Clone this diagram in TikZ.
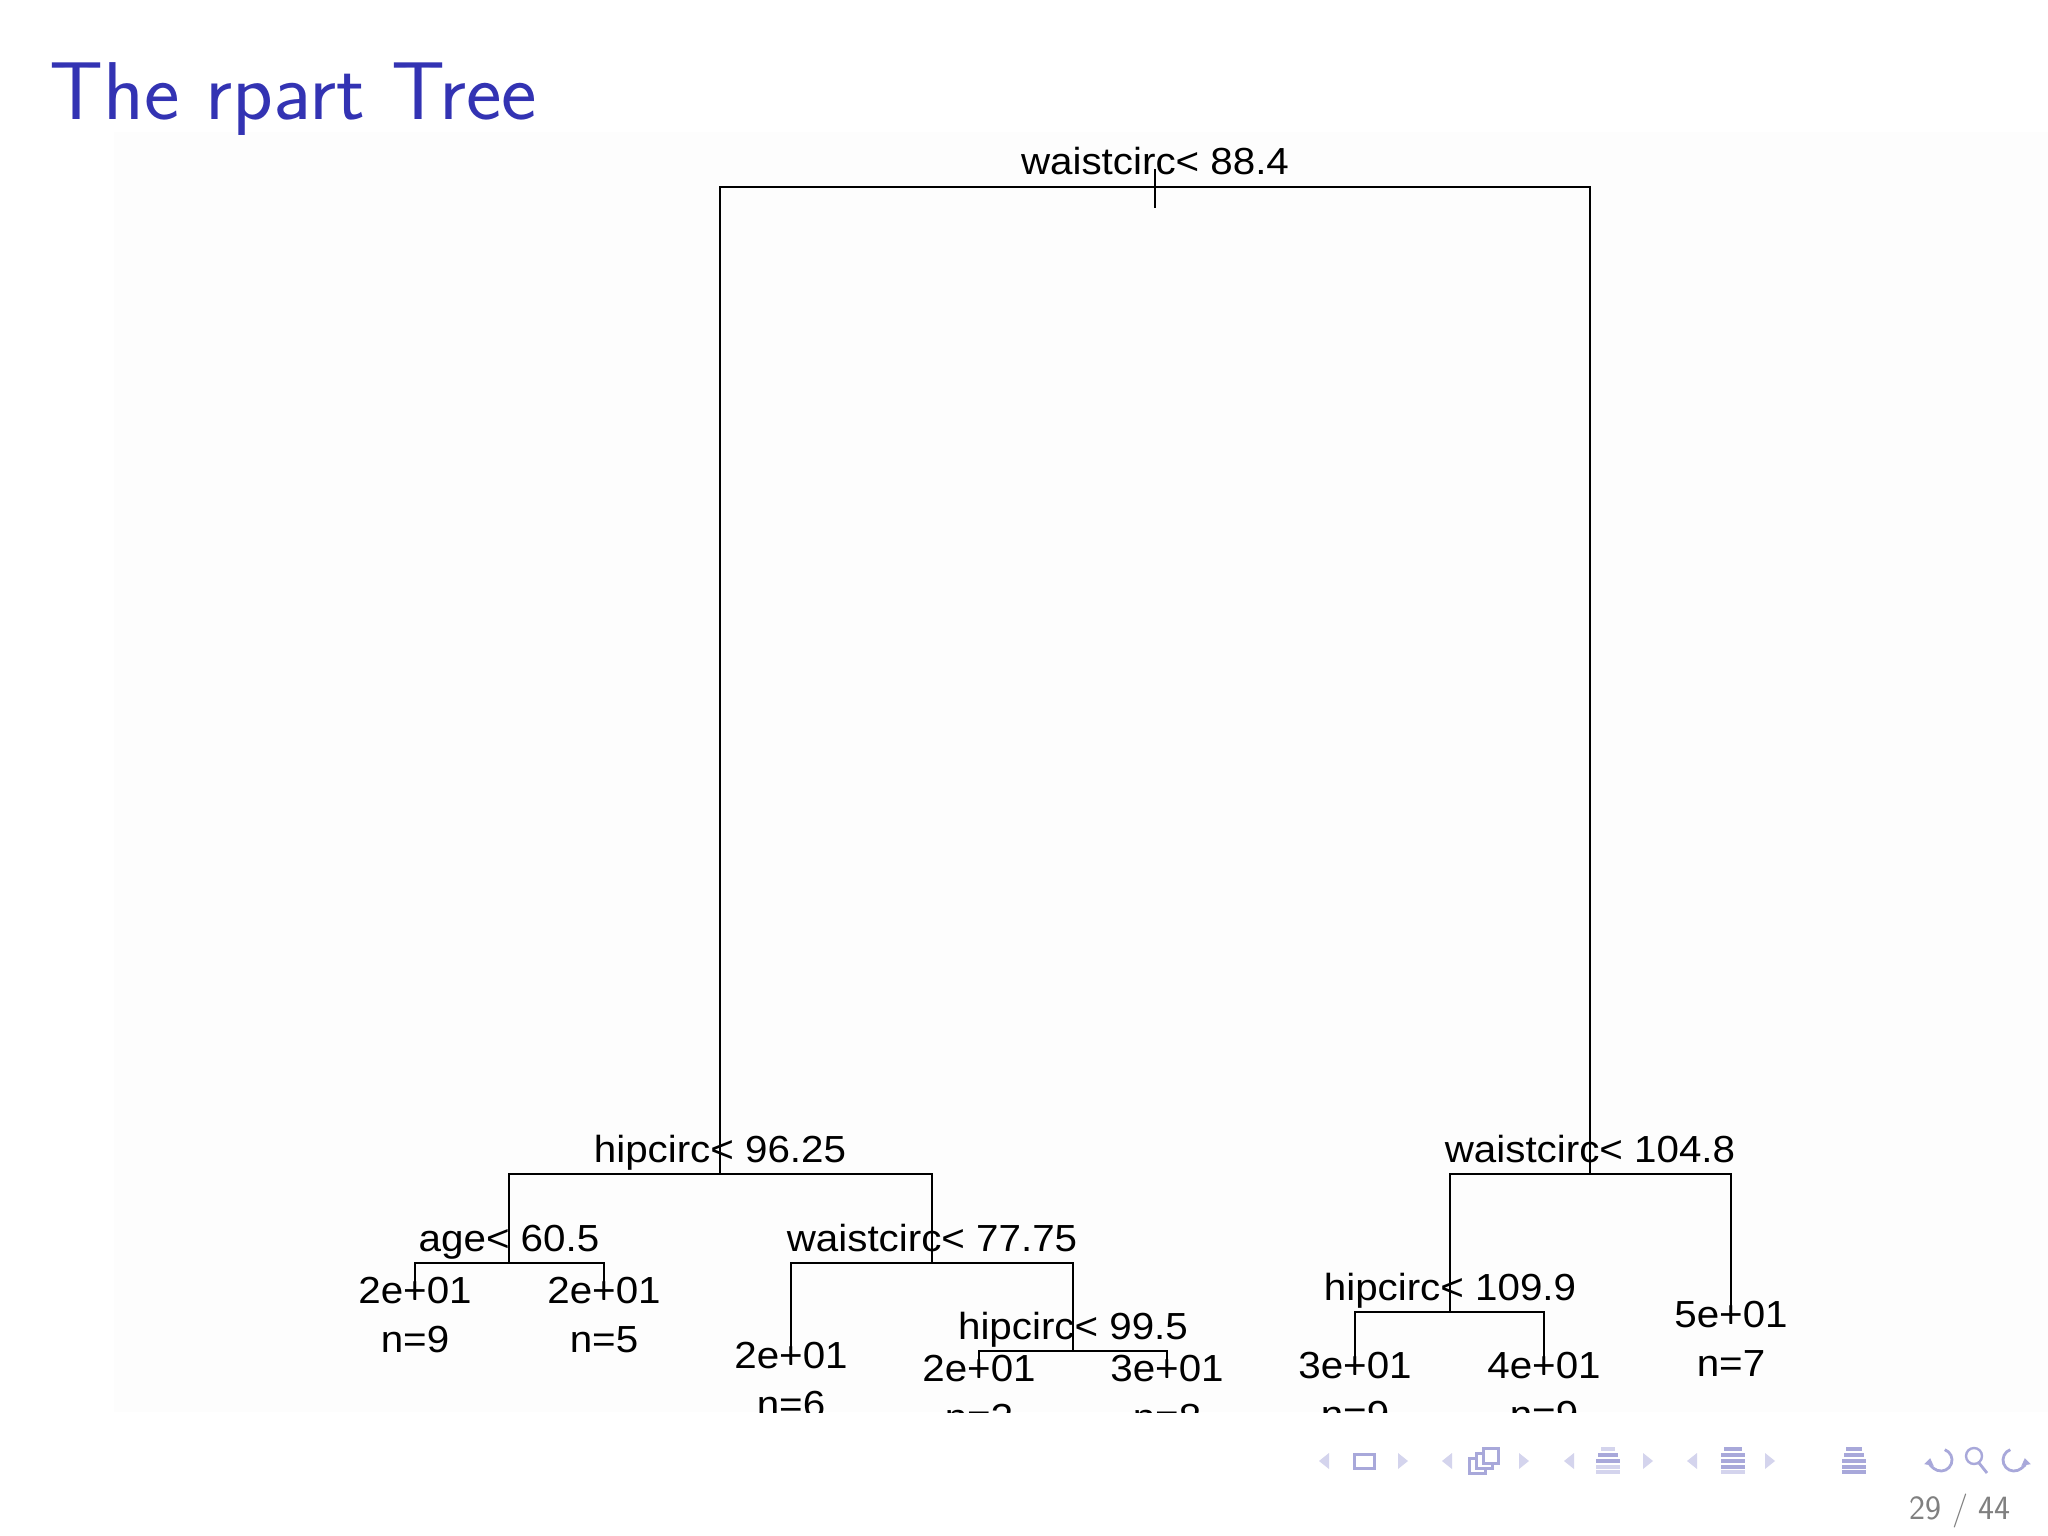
\documentclass[tikz,border=0pt]{standalone}
\usepackage{fontspec}
\newfontfamily\rfont[FakeStretch=1.07]{Liberation Sans}
\usetikzlibrary{arrows.meta}
\definecolor{titleblue}{RGB}{51,51,179}
\definecolor{navc}{RGB}{168,168,218}
\definecolor{navd}{RGB}{212,212,237}
\definecolor{plotbg}{RGB}{253,253,253}
\definecolor{pagegray}{RGB}{128,128,128}
\tikzset{
  branch/.style={line width=2.9pt, black, line cap=rect},
  splitlab/.style={anchor=base, inner sep=0pt, font=\rfont\fontsize{37.7}{45}\selectfont, yshift=12pt},
  leafval/.style={anchor=base, inner sep=0pt, font=\rfont\fontsize{37.7}{45}\selectfont, yshift=-4pt},
  leafn/.style={anchor=base, inner sep=0pt, font=\rfont\fontsize{37.7}{45}\selectfont, yshift=-53pt},
  navtri/.style={fill=navd, draw=none},
  navline/.style={navc, line width=3pt},
  navarc/.style={navc, line width=2.8pt, -{Triangle[length=7pt, width=9pt]}},
}
\begin{document}
\begin{tikzpicture}[x=1pt, y=-1pt]
\useasboundingbox (0,0) rectangle (2048,1536);
\fill[white] (0,0) rectangle (2048,1536);
\fill[plotbg] (114,132) rectangle (2048,1412);

% title
\node[anchor=base west, inner sep=0pt, text=titleblue, font=\sffamily\fontsize{82}{90}\selectfont] (title) at (49,120) {\scalebox{1.03}[1]{The rpart Tree}};

% tree coordinates
\coordinate (root) at (1155,187);
\coordinate (n2) at (720,1174);
\coordinate (n3) at (1590,1174);
\coordinate (n4) at (509,1263);
\coordinate (n5) at (932,1263);
\coordinate (n6) at (1073,1351);
\coordinate (n7) at (1450,1312);
\coordinate (L1) at (415,1299);
\coordinate (L2) at (604,1299);
\coordinate (L3) at (791,1364);
\coordinate (L4) at (979,1377);
\coordinate (L5) at (1167,1377);
\coordinate (L6) at (1355,1374);
\coordinate (L7) at (1544,1374);
\coordinate (L8) at (1731,1323);
\coordinate (ticktop) at (1155,170);
\coordinate (tickbot) at (1155,207);

\begin{scope}
\clip (0,0) rectangle (2048,1412);
% branches
\draw[branch] (n2) -- (n2 |- root) -- (n3 |- root) -- (n3);
\draw[branch] (ticktop) -- (tickbot);
\draw[branch] (n4) -- (n4 |- n2) -- (n5 |- n2) -- (n5);
\draw[branch] (L1) -- (L1 |- n4) -- (L2 |- n4) -- (L2);
\draw[branch] (L3) -- (L3 |- n5) -- (n6 |- n5) -- (n6);
\draw[branch] (L4) -- (L4 |- n6) -- (L5 |- n6) -- (L5);
\draw[branch] (n7) -- (n7 |- n3) -- (L8 |- n3) -- (L8);
\draw[branch] (L6) -- (L6 |- n7) -- (L7 |- n7) -- (L7);

% split labels
\node[splitlab] (s1) at (root) {waistcirc< 88.4};
\node[splitlab] (s2) at (n2) {hipcirc< 96.25};
\node[splitlab] (s3) at (n3) {waistcirc< 104.8};
\node[splitlab] (s4) at (n4) {age< 60.5};
\node[splitlab] (s5) at (n5) {waistcirc< 77.75};
\node[splitlab] (s6) at (n6) {hipcirc< 99.5};
\node[splitlab] (s7) at (n7) {hipcirc< 109.9};

% leaf labels
\node[leafval] (v1) at (L1) {2e+01};
\node[leafn]   (c1) at (L1) {n=9};
\node[leafval] (v2) at (L2) {2e+01};
\node[leafn]   (c2) at (L2) {n=5};
\node[leafval] (v3) at (L3) {2e+01};
\node[leafn]   (c3) at (L3) {n=6};
\node[leafval] (v4) at (L4) {2e+01};
\node[leafn]   (c4) at (L4) {n=3};
\node[leafval] (v5) at (L5) {3e+01};
\node[leafn]   (c5) at (L5) {n=8};
\node[leafval] (v6) at (L6) {3e+01};
\node[leafn]   (c6) at (L6) {n=9};
\node[leafval] (v7) at (L7) {4e+01};
\node[leafn]   (c7) at (L7) {n=9};
\node[leafval] (v8) at (L8) {5e+01};
\node[leafn]   (c8) at (L8) {n=7};
\end{scope}

% navigation symbols
\foreach \cx/\dir in {1324/-1,1403/1,1447/-1,1524/1,1569/-1,1648/1,1692/-1,1770/1}{
  \fill[navtri] (\cx-5*\dir,1453) -- (\cx+5*\dir,1461) -- (\cx-5*\dir,1469) -- cycle;
}
% slide icon
\draw[navline] (1354,1454) rectangle (1374,1468);
% frame icon
\draw[navline, fill=white] (1469,1458) rectangle (1485,1473);
\draw[navline, fill=white] (1476,1453) rectangle (1492,1468);
\draw[navline, fill=white] (1483,1448) rectangle (1498,1463);
% section icon
\foreach \yy/\w/\c in {1449/7/navd,1455/10/navc,1461/12/navc,1467/12/navd,1472/12/navd}{
  \fill[\c] (1608-\w,\yy-2) rectangle (1608+\w,\yy+2);
}
% subsection icon
\foreach \yy/\w/\c in {1449/9/navc,1455/12/navc,1461/12/navc,1467/12/navc,1472/12/navd}{
  \fill[\c] (1733-\w,\yy-2) rectangle (1733+\w,\yy+2);
}
% document icon
\foreach \yy/\w in {1449/8,1455/10,1461/12,1467/12,1472/12}{
  \fill[navc] (1854-\w,\yy-2) rectangle (1854+\w,\yy+2);
}
% undo
\begin{scope}[shift={(1941,1460)}, y=1pt]
  \draw[navarc] (70:11) arc[start angle=70, end angle=-190, radius=11];
\end{scope}
% search
\draw[navline, line width=2.4pt] (1974,1456) circle[radius=8];
\draw[navline, line width=2.8pt] (1979,1463) -- (1987,1473);
% redo
\begin{scope}[shift={(2014,1460)}, y=1pt]
  \draw[navarc] (110:11) arc[start angle=110, end angle=370, radius=11];
\end{scope}

% page number
\node[anchor=base east, inner sep=0pt, text=pagegray, font=\sffamily\fontsize{34}{40}\selectfont] (pg) at (2011,1519) {29 / 44};
\end{tikzpicture}
\end{document}
